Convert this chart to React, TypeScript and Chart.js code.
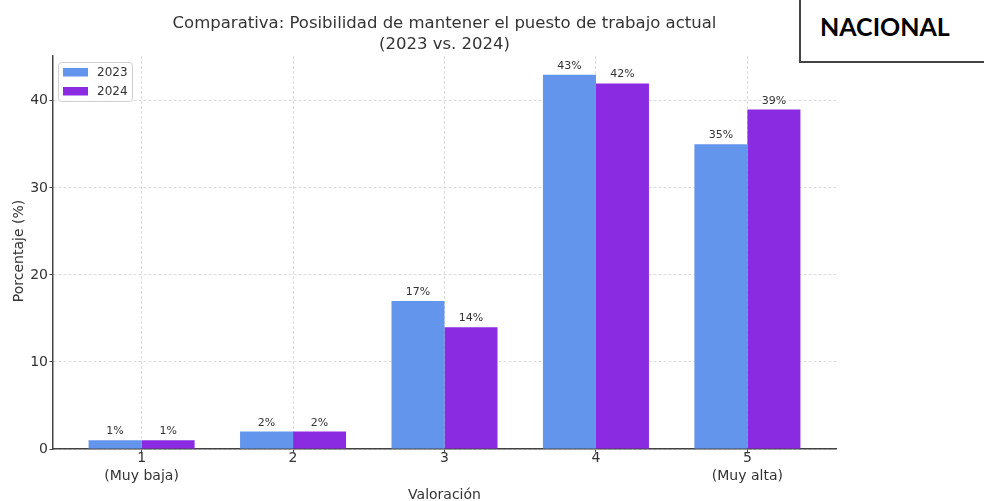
import React, { useEffect, useRef } from 'react';
import { Chart, registerables } from 'chart.js';

Chart.register(...registerables);

const categories = [0, 1, 2, 3, 4];
const categoryLabels: string[][] = [['1', '(Muy baja)'], ['2'], ['3'], ['4'], ['5', '(Muy alta)']];
const seriesLabels = ['2023', '2024'];
const values2023 = [1, 2, 17, 43, 35];
const values2024 = [1, 2, 14, 42, 39];
const yTicks = [0, 10, 20, 30, 40];
const titleLines = ['Comparativa: Posibilidad de mantener el puesto de trabajo actual', '(2023 vs. 2024)'];
const xTitle = 'Valoración';
const yTitle = 'Porcentaje (%)';
const colors = ['#6495ED', '#8A2BE2'];

const FONT = '"DejaVu Sans", sans-serif';
const TEXT = '#333333';

const decorPlugin = {
  id: 'decor',
  afterDatasetsDraw(chart: any) {
    const ctx = chart.ctx as CanvasRenderingContext2D;
    ctx.save();
    ctx.fillStyle = TEXT;
    ctx.font = `11px ${FONT}`;
    ctx.textAlign = 'center';
    ctx.textBaseline = 'alphabetic';
    chart.data.datasets.forEach((ds: any, di: number) => {
      const meta = chart.getDatasetMeta(di);
      meta.data.forEach((bar: any, i: number) => {
        const v = ds.data[i].y;
        ctx.fillText(`${v}%`, bar.x, bar.y - 6);
      });
    });
    ctx.restore();
  },
  afterDraw(chart: any) {
    const ctx = chart.ctx as CanvasRenderingContext2D;
    const ca = chart.chartArea;
    const cx = (ca.left + ca.right) / 2;
    ctx.save();
    ctx.fillStyle = TEXT;
    ctx.textAlign = 'center';
    ctx.textBaseline = 'middle';
    ctx.font = `16.5px ${FONT}`;
    ctx.fillText(titleLines[0], cx, 24);
    ctx.fillText(titleLines[1], cx, 45);
    ctx.font = `14px ${FONT}`;
    ctx.textBaseline = 'alphabetic';
    ctx.fillText(xTitle, cx, 499);
    ctx.textBaseline = 'middle';
    ctx.save();
    ctx.translate(19, 251);
    ctx.rotate(-Math.PI / 2);
    ctx.fillText(yTitle, 0, 0);
    ctx.restore();

    // legend
    const lx = 58.5, ly = 62.5, lw = 74, lh = 39;
    ctx.beginPath();
    (ctx as any).roundRect(lx, ly, lw, lh, 3);
    ctx.fillStyle = 'rgba(255,255,255,0.85)';
    ctx.fill();
    ctx.strokeStyle = '#d0d0d0';
    ctx.lineWidth = 1;
    ctx.stroke();
    ctx.font = `12px ${FONT}`;
    ctx.textAlign = 'left';
    chart.data.datasets.forEach((ds: any, di: number) => {
      const ry = 68 + di * 19;
      ctx.fillStyle = ds.backgroundColor;
      ctx.fillRect(63, ry, 25, 8.5);
      ctx.fillStyle = TEXT;
      ctx.fillText(ds.label, 97, ry + 4.5);
    });
    ctx.restore();
  },
};

export default function App() {
  const ref = useRef<HTMLCanvasElement | null>(null);

  useEffect(() => {
    document.body.style.margin = '0';
    const canvas = ref.current;
    if (!canvas) return;
    const chart = new Chart(canvas, {
      type: 'bar',
      data: {
        datasets: [
          {
            label: seriesLabels[0],
            data: categories.map((c, i) => ({ x: c, y: values2023[i] })),
            backgroundColor: colors[0],
            borderWidth: 0,
            categoryPercentage: 0.7,
            barPercentage: 1.0,
          },
          {
            label: seriesLabels[1],
            data: categories.map((c, i) => ({ x: c, y: values2024[i] })),
            backgroundColor: colors[1],
            borderWidth: 0,
            categoryPercentage: 0.7,
            barPercentage: 1.0,
          },
        ] as any,
      },
      options: {
        animation: false,
        responsive: false,
        layout: { padding: { left: 0, top: 56, right: 148, bottom: 0 } },
        plugins: { legend: { display: false }, title: { display: false }, tooltip: { enabled: false } },
        scales: {
          x: {
            type: 'linear',
            offset: false,
            min: -0.585,
            max: 4.585,
            afterBuildTicks: (scale: any) => {
              scale.ticks = categories.map((v) => ({ value: v }));
            },
            afterFit: (scale: any) => {
              scale.height = 52;
            },
            ticks: {
              callback: (value: any) => categoryLabels[Number(value)] ?? '',
              color: TEXT,
              font: { family: FONT, size: 14, lineHeight: 1.28 },
              padding: -3,
              maxRotation: 0,
              autoSkip: false,
            },
            grid: { offset: false, color: '#dcdcdc', lineWidth: 1, tickColor: '#444444', tickLength: 3.5, tickWidth: 1 },
            border: { display: true, color: '#444444', width: 1.5, dash: [3, 2] },
          },
          y: {
            type: 'linear',
            min: 0,
            max: 45.15,
            afterBuildTicks: (scale: any) => {
              scale.ticks = yTicks.map((v) => ({ value: v }));
            },
            afterFit: (scale: any) => {
              scale.width = 53;
            },
            ticks: {
              color: TEXT,
              font: { family: FONT, size: 14 },
              padding: 1.5,
            },
            grid: { color: '#dcdcdc', lineWidth: 1, tickColor: '#444444', tickLength: 3.5, tickWidth: 1 },
            border: { display: true, color: '#444444', width: 1.5, dash: [3, 2] },
          },
        },
      } as any,
      plugins: [decorPlugin],
    });
    return () => chart.destroy();
  }, []);

  return (
    <div style={{ position: 'absolute', left: 0, top: 0, width: 984, height: 501, background: '#fff', overflow: 'hidden' }}>
      <canvas ref={ref} width={984} height={501} style={{ position: 'absolute', left: 0, top: 0 }} />
      <div
        style={{
          position: 'absolute',
          left: 799,
          top: -10,
          width: 220,
          height: 73,
          boxSizing: 'border-box',
          border: '2px solid #444',
          background: '#fff',
        }}
      />
      <div
        style={{
          position: 'absolute',
          left: 820,
          top: 14,
          fontFamily: 'Lato, sans-serif',
          fontWeight: 700,
          fontSize: 25,
          lineHeight: '25px',
          color: '#000',
          whiteSpace: 'nowrap',
        }}
      >
        NACIONAL
      </div>
    </div>
  );
}
